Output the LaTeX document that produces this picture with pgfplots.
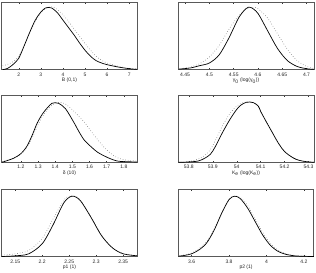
\documentclass[border=0pt]{standalone}
\usepackage{fontspec}
\setmainfont{Liberation Sans}
\usepackage{pgfplots}
\pgfplotsset{compat=1.18}
\pgfplotsset{
  mm/.style={
    width=135.5pt, height=67pt, scale only axis,
    ymin=0, ymax=1, ytick=\empty,
    axis line style={black!65, line width=0.6pt},
    tick align=inside, xtick pos=both,
    major tick length=1.8pt,
    tick style={black!80, line width=0.4pt},
    /pgf/number format/assume math mode=true,
    /pgf/number format/fixed,
    /pgf/number format/precision=2,
    ticklabel style={font=\fontsize{5}{5.5}\selectfont, text=black!85},
    xticklabel style={yshift=0.4pt},
    label style={font=\fontsize{5}{5.5}\selectfont, text=black!85},
    xlabel style={yshift=5.4pt},
    clip=true,
  },
  sol/.style={black, line width=0.7pt, smooth, tension=0.5, mark=none},
  dot/.style={black!50, dotted, line width=0.6pt, smooth, tension=0.5, mark=none},
}
\begin{document}
\begin{tikzpicture}
\useasboundingbox (0pt,0pt) rectangle (316pt,-273pt);

% Row 1 left
\begin{axis}[mm, at={(1.7pt,-2.7pt)}, anchor=north west,
  xmin=1.23, xmax=7.36, xtick={2,3,4,5,6,7}, xlabel={B (0,1)}]
\addplot[dot] coordinates {(1.27,0.06) (1.5,0.08) (1.75,0.12) (2.0,0.20) (2.25,0.36) (2.5,0.55) (2.75,0.72) (3.0,0.85) (3.25,0.92) (3.45,0.94) (3.65,0.92) (4.0,0.82) (4.25,0.72) (4.5,0.61) (4.75,0.50) (5.0,0.39) (5.25,0.29) (5.5,0.20) (5.75,0.14) (6.0,0.10) (6.5,0.05) (7.0,0.02) (7.35,0.01)};
\addplot[sol] coordinates {(1.27,0.0) (1.5,0.02) (1.75,0.08) (2.0,0.17) (2.25,0.36) (2.5,0.56) (2.75,0.74) (3.0,0.86) (3.2,0.92) (3.35,0.93) (3.5,0.92) (3.75,0.85) (4.0,0.74) (4.25,0.63) (4.5,0.52) (4.75,0.40) (5.0,0.29) (5.25,0.20) (5.5,0.135) (5.75,0.10) (6.0,0.075) (6.5,0.04) (7.0,0.015) (7.35,0.005)};
\end{axis}

% Row 1 right
\begin{axis}[mm, at={(178.3pt,-2.7pt)}, anchor=north west,
  xmin=4.436, xmax=4.715, xtick={4.45,4.5,4.55,4.6,4.65,4.7}, xlabel={γ\textsubscript{0} (log(γ\textsubscript{0}))}]
\addplot[dot] coordinates {(4.436,0.01) (4.46,0.04) (4.48,0.09) (4.50,0.19) (4.52,0.36) (4.54,0.60) (4.56,0.80) (4.58,0.92) (4.59,0.93) (4.60,0.91) (4.62,0.77) (4.64,0.54) (4.66,0.31) (4.68,0.14) (4.70,0.05) (4.715,0.02)};
\addplot[sol] coordinates {(4.436,0.008) (4.46,0.025) (4.48,0.06) (4.50,0.10) (4.52,0.22) (4.54,0.47) (4.56,0.77) (4.575,0.91) (4.585,0.93) (4.60,0.84) (4.62,0.58) (4.64,0.32) (4.66,0.14) (4.68,0.05) (4.70,0.015) (4.715,0.005)};
\end{axis}

% Row 2 left
\begin{axis}[mm, at={(1.7pt,-95.3pt)}, anchor=north west,
  xmin=1.088, xmax=1.878, xtick={1.2,1.3,1.4,1.5,1.6,1.7,1.8}, xlabel={δ (10)}]
\addplot[dot] coordinates {(1.09,0.01) (1.157,0.06) (1.20,0.12) (1.235,0.22) (1.265,0.36) (1.294,0.53) (1.325,0.68) (1.353,0.78) (1.38,0.85) (1.41,0.89) (1.43,0.895) (1.46,0.87) (1.51,0.76) (1.54,0.68) (1.57,0.60) (1.61,0.46) (1.647,0.34) (1.69,0.21) (1.725,0.13) (1.76,0.07) (1.80,0.04) (1.84,0.025) (1.878,0.02)};
\addplot[sol] coordinates {(1.09,0.0) (1.157,0.06) (1.20,0.13) (1.235,0.24) (1.265,0.40) (1.294,0.58) (1.325,0.72) (1.353,0.81) (1.38,0.88) (1.40,0.89) (1.42,0.88) (1.46,0.80) (1.51,0.59) (1.54,0.45) (1.57,0.33) (1.61,0.23) (1.647,0.15) (1.69,0.09) (1.725,0.05) (1.76,0.02) (1.80,0.01) (1.878,0.005)};
\end{axis}

% Row 2 right
\begin{axis}[mm, at={(178.3pt,-95.3pt)}, anchor=north west,
  xmin=53.756, xmax=54.322, xtick={53.8,53.9,54,54.1,54.2,54.3}, xlabel={K\textsubscript{e} (log(K\textsubscript{e}))}]
\addplot[dot] coordinates {(53.756,0.0) (53.80,0.01) (53.84,0.05) (53.866,0.10) (53.89,0.19) (53.91,0.32) (53.94,0.54) (53.97,0.72) (54.0,0.84) (54.03,0.895) (54.05,0.90) (54.07,0.89) (54.09,0.84) (54.10,0.76) (54.115,0.66) (54.14,0.50) (54.175,0.28) (54.20,0.16) (54.234,0.07) (54.26,0.03) (54.29,0.01) (54.322,0.0)};
\addplot[sol] coordinates {(53.756,0.0) (53.80,0.005) (53.84,0.02) (53.866,0.06) (53.89,0.12) (53.91,0.23) (53.94,0.44) (53.97,0.63) (54.0,0.79) (54.02,0.86) (54.04,0.895) (54.055,0.90) (54.07,0.89) (54.09,0.84) (54.10,0.76) (54.115,0.66) (54.14,0.50) (54.175,0.28) (54.20,0.16) (54.234,0.07) (54.26,0.03) (54.29,0.01) (54.322,0.0)};
\end{axis}

% Row 3 left
\begin{axis}[mm, at={(1.7pt,-189.5pt)}, anchor=north west,
  xmin=2.125, xmax=2.376, xtick={2.15,2.2,2.25,2.3,2.35}, xlabel={p1 (1)}]
\addplot[dot] coordinates {(2.125,0.02) (2.15,0.04) (2.175,0.09) (2.20,0.27) (2.22,0.56) (2.24,0.84) (2.25,0.90) (2.26,0.90) (2.27,0.85) (2.29,0.60) (2.31,0.32) (2.33,0.13) (2.35,0.045) (2.376,0.012)};
\addplot[sol] coordinates {(2.125,0.0) (2.15,0.01) (2.175,0.04) (2.20,0.19) (2.22,0.47) (2.24,0.80) (2.255,0.90) (2.27,0.84) (2.29,0.59) (2.31,0.31) (2.33,0.13) (2.35,0.04) (2.376,0.01)};
\end{axis}

% Row 3 right
\begin{axis}[mm, at={(178.3pt,-189.5pt)}, anchor=north west,
  xmin=3.529, xmax=4.253, xtick={3.6,3.8,4,4.2}, xlabel={p2 (1)}]
\addplot[dot] coordinates {(3.529,0.01) (3.56,0.025) (3.60,0.05) (3.64,0.12) (3.68,0.22) (3.72,0.41) (3.76,0.65) (3.80,0.85) (3.83,0.90) (3.86,0.88) (3.90,0.76) (3.94,0.56) (3.98,0.36) (4.02,0.20) (4.06,0.10) (4.10,0.045) (4.15,0.015) (4.20,0.005) (4.253,0.0)};
\addplot[sol] coordinates {(3.529,0.005) (3.56,0.015) (3.60,0.04) (3.64,0.10) (3.68,0.20) (3.72,0.39) (3.76,0.64) (3.80,0.85) (3.83,0.90) (3.86,0.865) (3.90,0.72) (3.94,0.52) (3.98,0.32) (4.02,0.17) (4.06,0.08) (4.10,0.035) (4.15,0.01) (4.20,0.003) (4.253,0.0)};
\end{axis}
\end{tikzpicture}
\end{document}
